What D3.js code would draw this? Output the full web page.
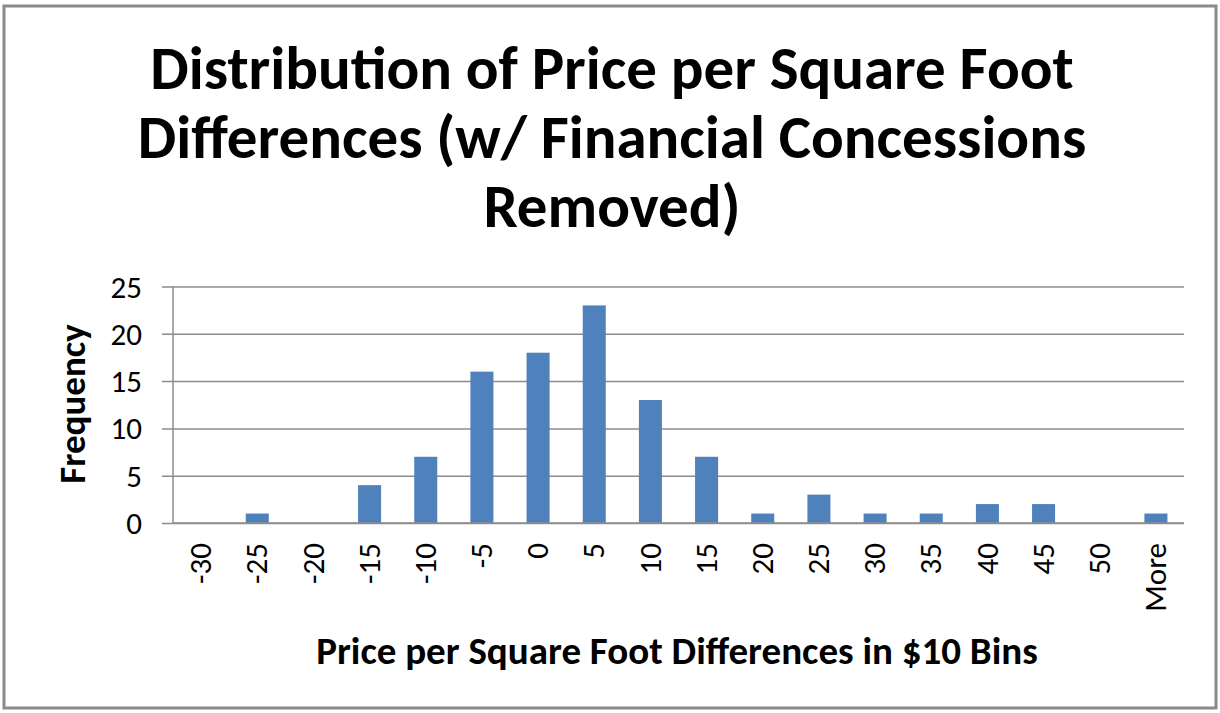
<!DOCTYPE html>
<html><head><meta charset="utf-8">
<script src="https://cdn.jsdelivr.net/npm/d3@7"></script>
<style>body{margin:0;background:#fff}svg{display:block}</style>
</head><body>
<script>
const categories = ["-30","-25","-20","-15","-10","-5","0","5","10","15","20","25","30","35","40","45","50","More"];
const frequency = [0,1,0,4,7,16,18,23,13,7,1,3,1,1,2,2,0,1];
const yTicks = [0,5,10,15,20,25];
const titleLines = ["Distribution of Price per Square Foot","Differences (w/ Financial Concessions","Removed)"];
const xTitle = "Price per Square Foot  Differences in $10 Bins";
const yTitle = "Frequency";

const W = 1220, H = 713;
const font = "Carlito, Lato, 'Open Sans', sans-serif";
const svg = d3.select("body").append("svg").attr("width", W).attr("height", H);
svg.append("rect").attr("width", W).attr("height", H).attr("fill", "#fff");
svg.append("rect").attr("x", 4).attr("y", 6).attr("width", 1212).attr("height", 702)
  .attr("fill", "none").attr("stroke", "#8a8a8a").attr("stroke-width", 3);

const L = 173, R = 1184, T = 286.5, B = 523;
const x = d3.scaleBand().domain(categories).range([L, R]).paddingInner(0.59).paddingOuter(0.295);
const y = d3.scaleLinear().domain([0, 25]).range([B, T]);

// gridlines
const yAxis = d3.axisLeft(y).tickValues(yTicks).tickSize(-(R - L)).tickSizeOuter(0);
const gy = svg.append("g").attr("transform", `translate(${L},0)`).call(yAxis);
gy.select(".domain").remove();
gy.selectAll(".tick line").attr("stroke", "#8c8c8c").attr("stroke-width", 1.5).attr("x2", R - L).attr("x1", -11);
gy.selectAll(".tick text").attr("font-family", font).attr("font-size", 31).attr("fill", "#000").attr("x", -31).attr("dy", "0.34em");

// y axis line
svg.append("line").attr("x1", L).attr("x2", L).attr("y1", T).attr("y2", B).attr("stroke", "#8c8c8c").attr("stroke-width", 1.5);

// bars
svg.append("g").selectAll("rect").data(frequency).join("rect")
  .attr("x", (d, i) => x(categories[i]))
  .attr("width", x.bandwidth())
  .attr("y", d => y(d))
  .attr("height", d => B - y(d))
  .attr("fill", "#4F81BD");

// x axis
const xAxis = d3.axisBottom(x).tickSize(0).tickPadding(0);
const gx = svg.append("g").attr("transform", `translate(0,${B})`).call(xAxis);
gx.select(".domain").attr("stroke", "#8c8c8c").attr("stroke-width", 1.5).attr("d", `M${L},0H${R}`);
gx.selectAll(".tick text").attr("font-family", font).attr("font-size", 31).attr("fill", "#000")
  .attr("transform", "rotate(-90)").attr("text-anchor", "end").attr("x", -20).attr("y", 0).attr("dy", "0.33em");

// titles
svg.append("g").selectAll("text").data(titleLines).join("text")
  .attr("x", 612).attr("y", (d, i) => 89 + i * 69)
  .attr("text-anchor", "middle").attr("font-family", font).attr("font-weight", "bold")
  .attr("font-size", 61).attr("fill", "#000").text(d => d);

svg.append("text").attr("x", 677).attr("y", 664).attr("text-anchor", "middle")
  .attr("font-family", font).attr("font-weight", "bold").attr("font-size", 39).attr("fill", "#000").text(xTitle);

svg.append("text").attr("transform", "translate(85,404) rotate(-90)").attr("text-anchor", "middle")
  .attr("font-family", font).attr("font-weight", "bold").attr("font-size", 37).attr("fill", "#000").text(yTitle);
</script>
</body></html>
